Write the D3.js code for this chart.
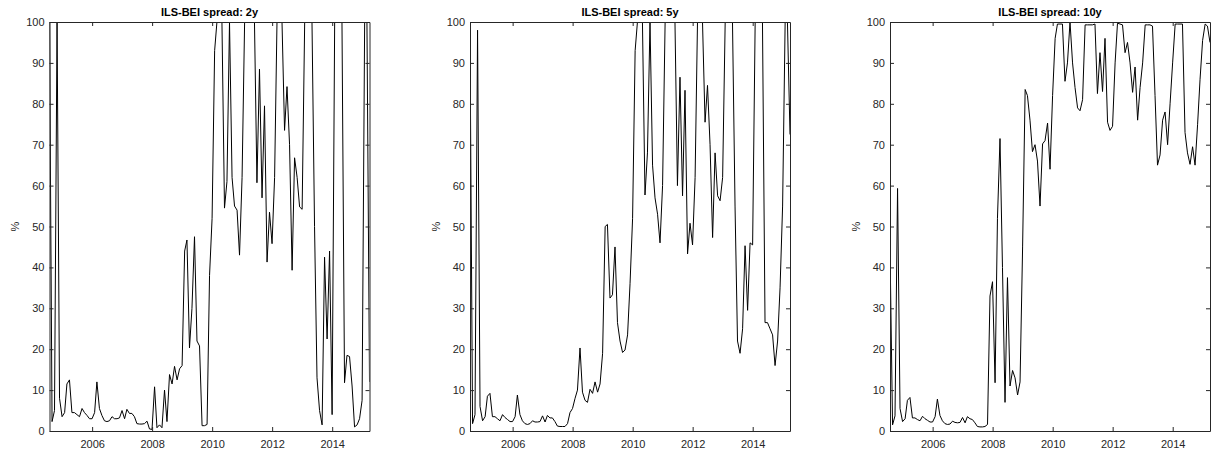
<!DOCTYPE html>
<html lang="en">
<head>
<meta charset="UTF-8">
<title>ILS-BEI spread</title>
<script src="https://cdn.jsdelivr.net/npm/d3@7"></script>
<style>
    body { margin: 0; background: #fff; }
    svg { display: block; font-family: "Liberation Sans", Arial, Helvetica, sans-serif; }
    .tick text { fill: #262626; font-size: 11px; }
    .title { font-size: 11px; font-weight: bold; fill: #000; }
    .ylab { font-size: 11px; fill: #262626; }
    .series { fill: none; stroke: #000; stroke-width: 1; }
</style>
</head>
<body>
<svg width="1211" height="456"></svg>
<script>
// monthly observations, July 2004 to March 2015 (end of month)
const firstMonth = new Date(Date.UTC(2004, 7, 1));
const lastMonth = new Date(Date.UTC(2015, 4, 1));

const titles = ["ILS-BEI spread: 2y", "ILS-BEI spread: 5y", "ILS-BEI spread: 10y"];
const yTicks = [0, 10, 20, 30, 40, 50, 60, 70, 80, 90, 100];
const xTickYears = [2006, 2008, 2010, 2012, 2014];

const spread2y = [
    100, 2.3, 5, 100, 8, 3.5, 4.5, 11.5, 12.5, 4.5,
    4.5, 4, 3.5, 5.5, 4.5, 3.8, 3, 3, 4.5, 12,
    5.5, 3.8, 2.5, 2.3, 2.5, 3.5, 3, 3, 3.2, 5,
    3, 5.3, 4.3, 4.3, 3.5, 1.8, 1.7, 1.7, 1.8, 2.4,
    0.5, 0.4, 10.8, 0.8, 1.5, 0.8, 10, 2.3, 13.8, 11.5,
    15.8, 12.5, 15.2, 16, 44, 46.7, 20.3, 30, 47.5, 22,
    20.8, 1.3, 1.3, 1.6, 38, 52, 93, 100, 100, 100,
    54.5, 61, 100, 62, 55, 54, 43, 62, 100, 100,
    100, 100, 100, 60.7, 88.5, 57, 79.5, 41.3, 53.5, 45.8,
    62, 100, 100, 100, 73.5, 84.2, 70, 39.3, 66.8, 62,
    54.8, 54.2, 100, 100, 100, 100, 50, 13, 5, 1.5,
    42.5, 22.5, 44, 4, 100, 100, 100, 100, 11.8, 18.5,
    18.2, 11, 1, 1.5, 3, 7.5, 100, 100, 12
];

const spread5y = [
    96.5, 1.8, 4, 98, 6, 2.5, 3.5, 8.5, 9.2, 3.5,
    3.5, 3, 2.5, 4, 3.3, 2.8, 2.3, 2.3, 3.5, 8.8,
    4, 2.5, 1.8, 1.6, 1.8, 2.5, 2.2, 2.2, 2.3, 3.7,
    2.2, 3.8, 3.2, 3.2, 2.3, 1.2, 1.1, 1.1, 1.1, 1.8,
    4.5, 5.5, 8, 10, 20.3, 9.5, 7.5, 7, 10.2, 9.2,
    12, 9.5, 11.5, 19, 50, 50.5, 32.5, 33.3, 45, 26.5,
    22, 19.2, 19.8, 23.5, 36, 52, 93, 100, 100, 100,
    57.7, 68, 100, 65, 57, 53, 46, 60, 100, 100,
    100, 100, 100, 60, 86.5, 57.5, 83.3, 43.3, 50.8, 45.5,
    62, 100, 100, 100, 75.5, 84.5, 70, 47.3, 68, 57.5,
    56.3, 62, 100, 100, 100, 100, 55, 22, 19, 25,
    45.3, 29.5, 46, 45.5, 100, 100, 100, 100, 26.5, 26.5,
    25, 23.5, 16, 22, 35, 55, 100, 100, 72.5
];

const spread10y = [
    45, 1.5, 3.7, 59.3, 5.5, 2.3, 3, 7.5, 8.2, 3.2,
    3.2, 2.8, 2.5, 3.6, 3, 2.6, 2.2, 2.2, 3.5, 7.8,
    3.8, 2.5, 1.8, 1.6, 1.7, 2.4, 2.1, 2, 2.1, 3.3,
    2, 3.5, 3, 2.8, 2, 1.1, 1, 1, 1.1, 1.6,
    33, 36.5, 11.8, 52, 71.5, 40, 7, 37.5, 11, 14.8,
    13, 8.8, 12, 45, 83.5, 82, 76, 68.3, 70, 66,
    55, 70.2, 71, 75.3, 64, 82, 96, 99.5, 99.5, 99.5,
    85.5, 90, 100, 90, 84, 79, 78.3, 81, 99.3, 99.3,
    99.3, 99.3, 99.5, 82.5, 92.5, 83, 96, 75.5, 73.5, 74.5,
    90, 99.7, 99.5, 99.3, 92.5, 95, 90, 82.8, 89, 76,
    84, 90, 99.3, 99.3, 99.3, 99, 82, 65, 67.5, 76,
    78, 70, 80, 90, 99.5, 99.5, 99.5, 99.5, 73, 68,
    65.2, 69.5, 65, 75, 86, 95.5, 99.5, 99, 95
];

const seriesList = [spread2y, spread5y, spread10y];

const dates = d3.utcMonth.range(firstMonth, lastMonth).map(d => d3.utcDay.offset(d, -1));

const svg = d3.select("svg");
const panelLeft = [49.5, 470, 890];
const panelWidth = 320;
const plotTop = 22, plotBottom = 431;
const axisColor = "#262626";

seriesList.forEach((values, k) => {
    const data = dates.map((d, i) => ({ date: d, value: values[i] }));
    const h = plotBottom - plotTop;

    const x = d3.scaleUtc()
        .domain(d3.extent(dates))
        .range([0, panelWidth]);
    const y = d3.scaleLinear()
        .domain([0, 100])
        .range([h, 0]);

    const g = svg.append("g")
        .attr("transform", `translate(${panelLeft[k]},${plotTop})`);

    g.append("clipPath")
        .attr("id", "clip" + k)
        .append("rect")
        .attr("width", panelWidth)
        .attr("height", h);

    // data line
    g.append("path")
        .datum(data)
        .attr("class", "series")
        .attr("clip-path", `url(#clip${k})`)
        .attr("d", d3.line()
            .x(d => x(d.date))
            .y(d => y(d.value)));

    const xTicks = xTickYears.map(yr => new Date(Date.UTC(yr, 0, 1)));

    // axes, ticks pointing inwards like the original figure
    const bottomAxis = g.append("g")
        .attr("transform", `translate(0,${h})`)
        .call(d3.axisBottom(x).tickValues(xTicks).tickFormat(d3.utcFormat("%Y"))
            .tickSizeInner(-4).tickSizeOuter(0).tickPadding(9));
    const topAxis = g.append("g")
        .call(d3.axisTop(x).tickValues(xTicks).tickFormat("")
            .tickSizeInner(-4).tickSizeOuter(0));
    const leftAxis = g.append("g")
        .call(d3.axisLeft(y).tickValues(yTicks)
            .tickSizeInner(-4).tickSizeOuter(0).tickPadding(5));
    const rightAxis = g.append("g")
        .attr("transform", `translate(${panelWidth},0)`)
        .call(d3.axisRight(y).tickValues(yTicks).tickFormat("")
            .tickSizeInner(-4).tickSizeOuter(0));

    [bottomAxis, topAxis, leftAxis, rightAxis].forEach(a => {
        a.select(".domain").attr("stroke", axisColor);
        a.selectAll(".tick line").attr("stroke", axisColor);
        a.selectAll(".tick text").style("font-size", "11px");
    });

    g.append("text")
        .attr("class", "title")
        .attr("x", panelWidth / 2)
        .attr("y", -6.5)
        .attr("text-anchor", "middle")
        .text(titles[k]);

    g.append("text")
        .attr("class", "ylab")
        .attr("transform", `translate(-30.5,${h / 2}) rotate(-90)`)
        .attr("text-anchor", "middle")
        .text("%");
});
</script>
</body>
</html>
